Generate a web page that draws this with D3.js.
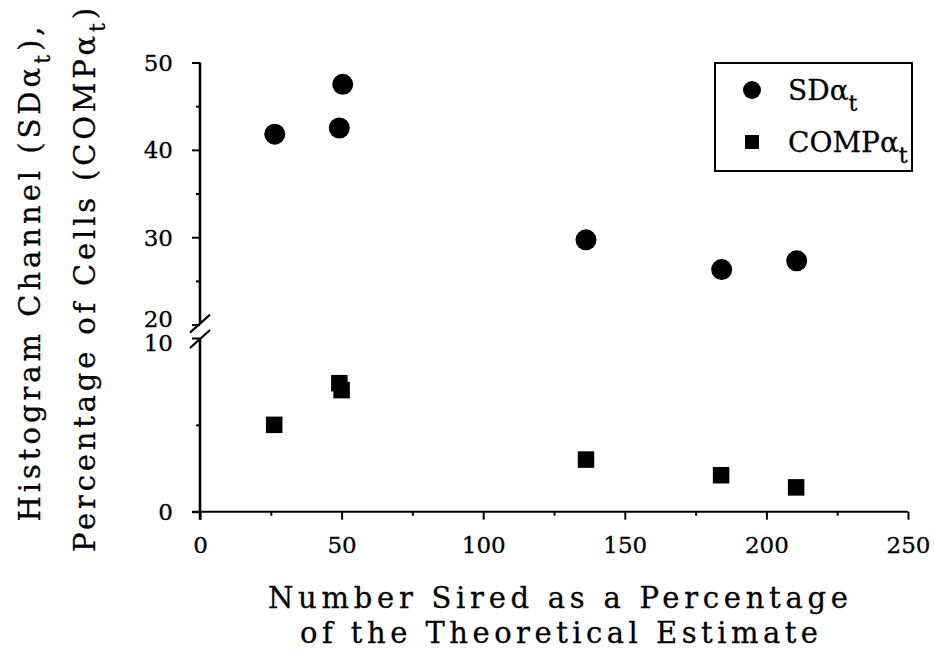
<!DOCTYPE html>
<html>
<head>
<meta charset="utf-8">
<script src="https://cdn.jsdelivr.net/npm/d3@7"></script>
<style>
  body { margin: 0; background: #fff; }
  svg { display: block; }
  text { font-family: "DejaVu Serif", "Liberation Serif", serif; fill: #000; stroke: #000; stroke-width: 0.3; }
</style>
</head>
<body>
<div id="chart"></div>
<script>
// values
const sired = [26.4, 49.2, 50.4, 136.3, 184.2, 210.7];
const sdAlpha = [41.8, 42.5, 47.5, 29.7, 26.3, 27.3];
const siredComp = [26.2, 49.2, 50.0, 136.3, 184.0, 210.5];
const compAlpha = [5.0, 7.4, 7.0, 3.0, 2.1, 1.4];

const xTicks = [0, 50, 100, 150, 200, 250];
const xMinor = [25, 75, 125, 175, 225];
const yUpperTicks = [20, 30, 40, 50];
const yUpperMinor = [25, 35, 45];
const yLowerTicks = [0, 10];
const yLowerMinor = [5];

const w = 934, h = 661;

const svg = d3.select('#chart')
  .append('svg')
  .attr('width', w)
  .attr('height', h);

const x = d3.scaleLinear().domain([0, 250]).range([200, 908]);
const yTop = d3.scaleLinear().domain([20, 50]).range([324.6, 62.5]);
const yBot = d3.scaleLinear().domain([0, 10]).range([511.7, 338]);

// x axis
const xAxis = svg.append('g')
  .attr('class', 'x-axis')
  .attr('transform', `translate(0, ${yBot(0)})`)
  .call(d3.axisBottom(x).tickValues(xTicks).tickSize(8).tickPadding(17).tickFormat(d3.format('d')));

svg.append('g')
  .attr('transform', `translate(0, ${yBot(0)})`)
  .call(d3.axisBottom(x).tickValues(xMinor).tickSize(4).tickFormat(''))
  .select('.domain').remove();

xAxis.select('.domain').remove();
svg.append('line')
  .attr('x1', x(0) - 8).attr('x2', x(250))
  .attr('y1', yBot(0)).attr('y2', yBot(0))
  .attr('stroke', '#000').attr('stroke-width', 2);

// y axis, two segments
const yAxisTop = svg.append('g')
  .attr('transform', `translate(${x(0)}, 0)`)
  .call(d3.axisLeft(yTop).tickValues(yUpperTicks).tickSize(8).tickPadding(19));
svg.append('g')
  .attr('transform', `translate(${x(0)}, 0)`)
  .call(d3.axisLeft(yTop).tickValues(yUpperMinor).tickSize(4).tickFormat(''))
  .select('.domain').remove();

const yAxisBot = svg.append('g')
  .attr('transform', `translate(${x(0)}, 0)`)
  .call(d3.axisLeft(yBot).tickValues(yLowerTicks).tickSize(8).tickPadding(19));
svg.append('g')
  .attr('transform', `translate(${x(0)}, 0)`)
  .call(d3.axisLeft(yBot).tickValues(yLowerMinor).tickSize(4).tickFormat(''))
  .select('.domain').remove();

yAxisTop.select('.domain').remove();
yAxisBot.select('.domain').remove();

svg.append('line')
  .attr('x1', x(0)).attr('x2', x(0))
  .attr('y1', yTop(50)).attr('y2', yTop(20) - 1)
  .attr('stroke', '#000').attr('stroke-width', 2.6);
svg.append('line')
  .attr('x1', x(0)).attr('x2', x(0))
  .attr('y1', yBot(10) + 1).attr('y2', yBot(0) + 8)
  .attr('stroke', '#000').attr('stroke-width', 2.6);

// break marks
[yTop(20) - 1, yBot(10) + 1].forEach(cy => {
  svg.append('line')
    .attr('x1', x(0) - 10).attr('y1', cy + 9)
    .attr('x2', x(0) + 10).attr('y2', cy - 9)
    .attr('stroke', '#000').attr('stroke-width', 2.2);
});

d3.selectAll('.tick line').attr('stroke', '#000').attr('stroke-width', 2);
d3.selectAll('.tick text').attr('font-size', 23);
yAxisTop.selectAll('.tick text').attr('dy', '0.35em');
yAxisBot.selectAll('.tick text').attr('dy', '0.35em');
yAxisTop.selectAll('.tick text').filter(d => d === 20).attr('dy', '0.1em');
yAxisBot.selectAll('.tick text').filter(d => d === 10).attr('dy', '0.55em');

// points
svg.append('g')
  .selectAll('circle')
  .data(sired)
  .enter()
  .append('circle')
  .attr('cx', d => x(d))
  .attr('cy', (d, i) => yTop(sdAlpha[i]))
  .attr('r', 10.5)
  .attr('fill', '#000');

const sq = 16.5;
svg.append('g')
  .selectAll('rect')
  .data(siredComp)
  .enter()
  .append('rect')
  .attr('x', d => x(d) - sq / 2)
  .attr('y', (d, i) => yBot(compAlpha[i]) - sq / 2)
  .attr('width', sq)
  .attr('height', sq)
  .attr('fill', '#000');

// legend
const legend = svg.append('g');
legend.append('rect')
  .attr('x', 715).attr('y', 63)
  .attr('width', 197).attr('height', 108)
  .attr('fill', 'none').attr('stroke', '#000').attr('stroke-width', 2);
legend.append('circle')
  .attr('cx', 752).attr('cy', 90).attr('r', 9).attr('fill', '#000');
legend.append('rect')
  .attr('x', 745).attr('y', 135).attr('width', 14).attr('height', 14).attr('fill', '#000');

const labelSD = legend.append('text')
  .attr('x', 788).attr('y', 100)
  .attr('font-size', 28);
labelSD.append('tspan').text('SDα');
labelSD.append('tspan').attr('dy', 11).attr('font-size', 22).text('t');

const labelComp = legend.append('text')
  .attr('x', 788).attr('y', 152)
  .attr('font-size', 28);
labelComp.append('tspan').text('COMPα');
labelComp.append('tspan').attr('dy', 11).attr('font-size', 22).text('t');

// axis titles
svg.append('text')
  .attr('text-anchor', 'middle')
  .attr('x', 558).attr('y', 608)
  .attr('font-size', 29)
  .attr('textLength', 580)
  .attr('lengthAdjust', 'spacing')
  .text('Number Sired as a Percentage');
svg.append('text')
  .attr('text-anchor', 'middle')
  .attr('x', 559).attr('y', 643)
  .attr('font-size', 29)
  .attr('textLength', 518)
  .attr('lengthAdjust', 'spacing')
  .text('of the Theoretical Estimate');

const yTitle1 = svg.append('text')
  .attr('text-anchor', 'middle')
  .attr('transform', 'translate(40, 274)rotate(-90)')
  .attr('font-size', 29)
  .attr('textLength', 495)
  .attr('lengthAdjust', 'spacing');
yTitle1.append('tspan').text('Histogram Channel (SDα');
yTitle1.append('tspan').attr('dy', 10).attr('font-size', 22).text('t');
yTitle1.append('tspan').attr('dy', -10).text('),');

const yTitle2 = svg.append('text')
  .attr('text-anchor', 'middle')
  .attr('transform', 'translate(95, 280)rotate(-90)')
  .attr('font-size', 29)
  .attr('textLength', 544)
  .attr('lengthAdjust', 'spacing');
yTitle2.append('tspan').text('Percentage of Cells (COMPα');
yTitle2.append('tspan').attr('dy', 10).attr('font-size', 22).text('t');
yTitle2.append('tspan').attr('dy', -10).text(')');
</script>
</body>
</html>
